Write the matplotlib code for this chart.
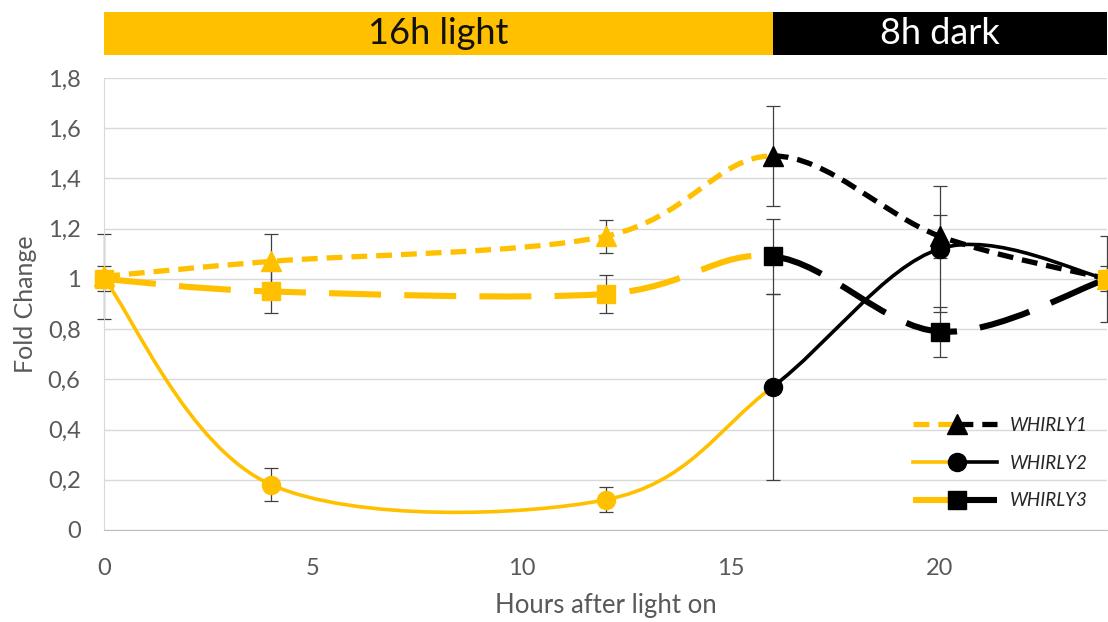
import matplotlib
matplotlib.use("Agg")
import matplotlib.pyplot as plt
from matplotlib.path import Path
from matplotlib.patches import PathPatch
from matplotlib.lines import Line2D
from matplotlib.legend_handler import HandlerBase
from matplotlib.ticker import FuncFormatter

plt.rcParams["font.family"] = ["Lato", "DejaVu Sans"]

# data
hours = [0, 4, 12, 16, 20, 24]
whirly1 = [1.01, 1.07, 1.17, 1.49, 1.17, 1.00]
whirly1_err = [0.17, 0.11, 0.065, 0.20, 0.085, 0.17]
whirly2 = [1.00, 0.18, 0.12, 0.57, 1.12, 1.00]
whirly2_err = [0.05, 0.065, 0.05, 0.37, 0.25, 0.05]
whirly3 = [1.00, 0.95, 0.94, 1.09, 0.79, 1.00]
whirly3_err = [0.02, 0.085, 0.075, 0.15, 0.10, 0.02]
series_names = ["WHIRLY1", "WHIRLY2", "WHIRLY3"]

phase_labels = ["16h light", "8h dark"]
phase_start = [0, 16]
phase_length = [16, 8]
light_end = 16

YELLOW = "#FFC000"
GRAY = "#595959"
marker_colors = [YELLOW, YELLOW, YELLOW, "black", "black", YELLOW]

styles = [
    dict(ls=(0, (3.0, 1.7)), lw=3.8, marker="^", ms=14),
    dict(ls="-", lw=2.6, marker="o", ms=13),
    dict(ls=(0, (8.5, 3.8)), lw=4.4, marker="s", ms=13),
]


def smooth_path(xs, ys, i0, i1):
    # excel-style smoothed line: bezier segments, control points from neighbours / 6
    n = len(xs)
    verts, codes = [(xs[i0], ys[i0])], [Path.MOVETO]
    for i in range(i0, i1):
        p0 = max(i - 1, 0)
        p3 = min(i + 2, n - 1)
        c1 = (xs[i] + (xs[i + 1] - xs[p0]) / 6, ys[i] + (ys[i + 1] - ys[p0]) / 6)
        c2 = (xs[i + 1] - (xs[p3] - xs[i]) / 6, ys[i + 1] - (ys[p3] - ys[i]) / 6)
        verts += [c1, c2, (xs[i + 1], ys[i + 1])]
        codes += [Path.CURVE4] * 3
    return Path(verts, codes)


fig = plt.figure(figsize=(11.08, 6.22), dpi=100)
left, width = 0.094, 0.905
ax = fig.add_axes([left, 0.148, width, 0.7265])
bar_ax = fig.add_axes([left, 0.9116, width, 0.0691])

split = hours.index(light_end)
all_series = [(whirly1, whirly1_err), (whirly2, whirly2_err), (whirly3, whirly3_err)]
for (vals, errs), st in zip(all_series, styles):
    ax.errorbar(hours, vals, yerr=errs, fmt="none", ecolor="#404040",
                elinewidth=0.9, capsize=5, capthick=0.9, zorder=2, clip_on=False)
    for (a, b), col in [((0, split), YELLOW), ((split, len(hours) - 1), "black")]:
        patch = PathPatch(smooth_path(hours, vals, a, b), facecolor="none",
                          edgecolor=col, lw=st["lw"], linestyle=st["ls"],
                          capstyle="butt", zorder=3)
        ax.add_patch(patch)
    for h, v, c in zip(hours, vals, marker_colors):
        ax.plot(h, v, marker=st["marker"], ms=st["ms"], color=c,
                markeredgecolor=c, zorder=4, clip_on=False)

ax.set_xlim(0, 24)
ax.set_ylim(0, 1.8)
ax.set_xticks([0, 5, 10, 15, 20])
ax.set_yticks([0, 0.2, 0.4, 0.6, 0.8, 1.0, 1.2, 1.4, 1.6, 1.8])
ax.yaxis.set_major_formatter(FuncFormatter(lambda v, p: f"{v:g}".replace(".", ",")))
ax.grid(axis="y", color="#D9D9D9", lw=1)
ax.set_axisbelow(True)
for s in ["top", "right"]:
    ax.spines[s].set_visible(False)
ax.spines["left"].set_color("#D9D9D9")
ax.spines["bottom"].set_color("#BFBFBF")
ax.tick_params(length=0, labelsize=17, labelcolor=GRAY)
ax.tick_params(axis="x", pad=20)
ax.tick_params(axis="y", pad=17)
ax.set_xlabel("Hours after light on", fontsize=18.5, color=GRAY, labelpad=10)
ax.set_ylabel("Fold Change", fontsize=18, color=GRAY, labelpad=8)


class SplitHandler(HandlerBase):
    def __init__(self, st):
        super().__init__()
        self.st = st

    def create_artists(self, legend, orig_handle, xdescent, ydescent,
                       width, height, fontsize, trans):
        x0 = -xdescent
        xm = x0 + width * 0.53
        x1 = x0 + width
        y = height / 2 - ydescent
        st = self.st
        a = Line2D([x0, xm], [y, y], color=YELLOW, lw=st["lw"], ls=st["ls"])
        b = Line2D([xm, x1], [y, y], color="black", lw=st["lw"], ls=st["ls"])
        m = Line2D([xm], [y], marker=st["marker"], ms=st["ms"], color="black", ls="none")
        for art in (a, b, m):
            art.set_transform(trans)
        return [a, b, m]


handles = [Line2D([], []) for _ in series_names]
leg = ax.legend(handles, series_names, loc="center left", bbox_to_anchor=(0.797, 0.148),
                frameon=False, handlelength=4.5, handletextpad=0.7, labelspacing=1.1,
                borderpad=0, prop=dict(size=13.5, style="italic"),
                handler_map={h: SplitHandler(st) for h, st in zip(handles, styles)})
for t in leg.get_texts():
    t.set_color("#262626")

# light / dark bar on top
bar_colors = [YELLOW, "black"]
text_colors = ["#111111", "white"]
bar_ax.barh(0, phase_length, left=phase_start, height=1, color=bar_colors)
for s, l, lab, tc in zip(phase_start, phase_length, phase_labels, text_colors):
    bar_ax.text(s + l / 2, 0, lab, ha="center", va="center", fontsize=26, color=tc)
bar_ax.set_xlim(0, 24)
bar_ax.set_ylim(-0.5, 0.5)
bar_ax.axis("off")

fig.savefig("out.png", dpi=100)
